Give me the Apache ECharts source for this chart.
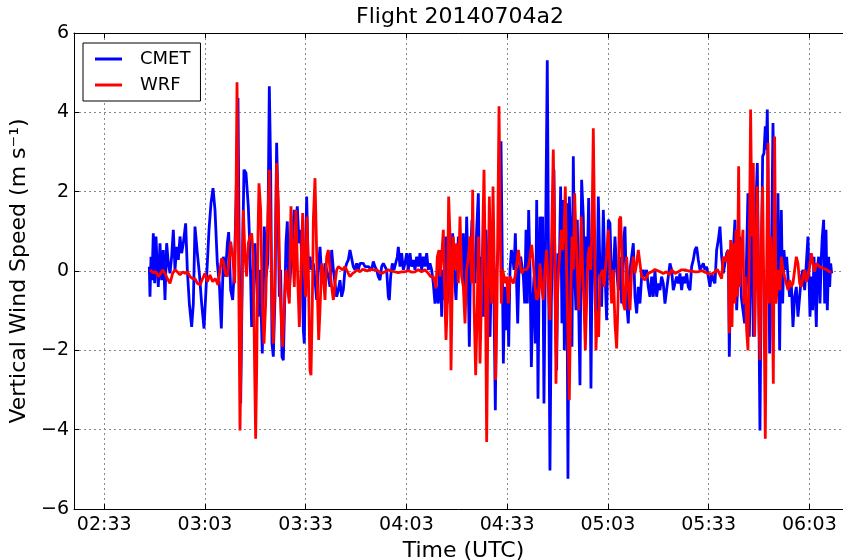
<!DOCTYPE html>
<html>
<head>
<meta charset="utf-8">
<script src="https://cdn.jsdelivr.net/npm/echarts@6/dist/echarts.min.js"></script>
<style>
  html, body { margin: 0; padding: 0; background: #fff; }
  #main { width: 843px; height: 560px; }
</style>
</head>
<body>
<div id="main"></div>
<script>
// time in minutes after 02:00 UTC, vertical wind speed in m/s
const cmet = [
  [46.43,0.11],[46.63,-0.65],[46.93,0.36],[47.22,-0.23],[47.62,0.95],[48.02,-0.31],[48.42,0.87],[48.81,0.03],[49.11,-0.40],[49.61,0.70],
  [50.10,-0.23],[50.60,0.53],[51.10,-0.73],[51.59,0.70],[52.09,0.19],[52.59,-0.06],[53.08,0.36],[53.58,1.04],[54.08,0.03],[54.57,0.61],
  [55.07,0.28],[55.57,0.87],[56.06,0.45],[56.56,0.70],[57.25,1.20],[57.75,0.03],[58.35,-0.82],[59.04,-1.41],[59.54,-0.82],[60.03,1.12],
  [60.73,0.45],[61.33,-0.06],[62.02,-0.82],[62.72,-1.45],[63.51,-0.14],[64.21,1.04],[64.80,1.71],[65.40,2.09],[65.99,1.54],[66.69,0.19],
  [67.28,-0.31],[67.88,-1.45],[68.48,0.36],[69.07,-0.14],[69.67,0.70],[70.06,0.98],[70.66,-0.48],[71.26,-0.73],[71.75,0.03],[72.25,1.71],
  [72.84,4.36],[73.24,0.03],[73.64,-3.34],[74.13,0.03],[74.62,2.55],[75.22,2.47],[75.91,1.63],[76.41,0.53],[76.91,-1.41],[77.40,0.03],
  [77.90,0.70],[78.40,-0.31],[78.89,-1.15],[79.39,0.03],[80.08,-2.08],[80.68,1.12],[81.18,-0.14],[81.67,0.19],[82.17,4.66],[82.57,2.55],
  [82.96,-1.83],[83.36,-2.16],[83.86,-0.65],[84.35,3.23],[84.75,1.71],[85.15,-0.65],[85.54,0.03],[85.94,-2.16],[86.34,-2.25],[86.74,-0.82],
  [87.13,0.70],[87.53,1.25],[88.03,-0.65],[88.52,0.03],[89.12,0.87],[89.62,1.54],[90.11,1.29],[90.51,1.63],[91.01,0.70],[91.50,1.04],
  [92.00,-0.14],[92.30,-1.49],[92.59,-1.83],[92.89,0.03],[93.29,1.88],[93.79,0.03],[94.28,0.36],[94.78,0.03],[95.28,0.19],[95.77,-0.23],
  [96.27,-0.73],[96.77,0.03],[97.26,0.61],[97.76,-0.14],[98.26,-0.31],[98.75,0.19],[99.25,0.03],[99.75,-0.14],[100.24,-0.40],[100.74,0.53],
  [101.24,0.03],[101.73,-0.31],[102.23,-0.65],[102.72,-0.48],
  [103.21,-0.23],[103.71,-0.65],[104.20,-0.48],[104.70,0.03],[105.20,0.19],[105.69,0.28],[106.19,0.53],[106.69,0.57],[107.18,0.11],[107.68,0.03],
  [108.18,0.19],[108.67,0.03],[109.17,0.19],[109.66,0.15],[110.16,0.19],[110.66,0.11],[111.15,0.15],[111.65,0.11],[112.15,0.11],[112.64,0.03],
  [113.14,0.24],[113.64,0.11],[114.13,0.03],[114.63,-0.14],[115.13,-0.23],[115.62,0.11],[116.12,0.19],[116.62,0.11],[117.11,0.03],[117.61,-0.65],
  [117.91,-0.73],[118.30,-0.14],[118.80,0.19],[119.30,0.03],[119.79,0.03],[120.29,0.36],[120.59,0.61],[121.08,0.11],[121.58,0.45],[122.08,0.03],
  [122.57,0.19],[123.07,0.45],[123.57,0.03],[124.06,0.45],[124.56,0.11],[125.06,0.28],[125.55,0.03],[126.05,0.36],[126.55,0.11],[127.04,0.45],
  [127.54,0.03],[128.04,0.36],[128.53,0.11],[129.03,0.45],[129.53,0.03],[130.02,0.19],[130.52,0.03],[131.01,-0.31],[131.51,-0.82],[132.01,-0.40],
  [132.50,-0.82],
  [133.00,0.53],[133.50,-1.15],[133.79,0.03],[134.19,-0.73],[134.79,0.87],[135.18,-0.82],[135.78,0.70],[136.28,0.03],[136.77,0.95],[137.17,0.03],
  [137.77,-0.73],[138.46,0.87],[138.96,0.28],[139.45,0.03],[139.95,0.95],[140.45,-0.82],[140.94,1.37],[141.34,0.03],[141.74,-1.91],[142.14,0.45],
  [142.53,1.29],[142.93,0.03],[143.43,-0.31],[143.92,1.04],[144.42,1.96],[144.72,0.03],[145.11,0.36],[145.51,-0.82],[145.91,-1.15],[146.31,0.87],
  [146.70,1.04],[147.10,0.03],[147.50,-0.82],[147.90,-1.66],[148.29,0.03],[148.69,-0.14],[149.09,-0.82],[149.48,-3.51],[149.88,0.03],[150.28,0.03],
  [150.68,0.87],[151.17,3.27],[151.57,0.03],[151.87,-2.33],[152.26,-0.40],[152.66,-1.49],[153.06,-0.40],[153.46,-1.91],[153.85,0.03],[154.25,0.53],
  [154.65,0.36],[155.04,0.03],[155.44,0.95],[155.84,-0.40],[156.14,-1.32],[156.53,0.03],[157.03,0.36],[157.43,0.36],[157.83,-0.14],[158.22,-0.82],
  [158.62,1.04],[159.02,-0.82],[159.41,1.54],[159.81,0.03],[160.21,-2.42],[160.61,-0.82],[161.00,-0.14],[161.40,-1.83],[161.80,1.79],[162.19,-3.22],
  [162.49,-0.48],
  [162.77,1.37],[163.17,0.03],[163.56,1.37],[163.96,-3.34],[164.36,0.03],[164.95,5.31],[165.35,0.03],[165.75,-5.03],[166.15,-0.82],[166.54,0.87],
  [166.94,2.55],[167.34,-0.82],[167.74,-2.50],[168.13,0.45],[168.53,0.03],[168.93,2.13],[169.32,-1.32],[169.72,1.79],[170.02,-2.00],[170.42,0.03],
  [170.71,1.71],[171.11,-5.24],[171.51,1.88],[171.91,0.87],[172.30,-1.91],[172.70,2.89],[173.10,0.03],[173.49,-0.99],[173.89,1.29],[174.29,-0.82],
  [174.69,-2.88],[175.18,2.30],[175.68,1.37],[176.08,-0.99],[176.47,0.87],[176.87,0.03],[177.27,1.84],[177.67,0.03],[177.96,-2.96],[178.36,0.87],
  [178.86,1.12],[179.25,-0.82],[179.65,-1.24],[180.15,1.88],[180.64,0.03],[181.14,-0.90],[181.64,1.54],[182.13,0.03],[182.63,-1.24],[183.13,1.29],
  [183.62,1.20],[184.12,-0.31],[184.62,-0.14],[185.11,0.87],[185.61,0.03],[186.11,-0.48],[186.60,0.36],[187.10,-0.82],[187.60,0.70],[188.09,1.12],
  [188.59,-0.82],[189.08,-1.32],[189.58,0.03],[190.08,0.36],[190.57,0.70],[191.07,-0.65],[191.57,-1.07],[192.06,-0.40],
  [192.55,-0.82],[193.05,-0.14],[193.54,0.03],[194.04,-0.14],[194.54,0.03],[195.03,-0.40],[195.53,-0.65],[196.03,-0.14],[196.52,-0.65],[197.02,0.03],
  [197.52,-0.65],[198.01,-0.31],[198.51,-0.48],[199.00,-0.14],[199.50,-0.31],[200.00,-0.82],[200.49,-0.48],[200.99,-0.14],[201.49,0.19],[201.98,0.03],
  [202.48,-0.48],[202.98,-0.31],[203.47,-0.14],[203.97,-0.31],[204.47,-0.06],[204.96,-0.48],[205.46,-0.14],[205.96,-0.31],[206.45,-0.06],[206.95,-0.40],
  [207.45,-0.48],[207.94,0.11],[208.44,0.28],[208.93,0.53],[209.43,0.61],[209.93,0.28],[210.42,0.03],[210.92,0.11],[211.42,0.19],[211.91,0.03],
  [212.41,0.11],[212.91,-0.14],[213.40,-0.40],[213.90,-0.06],[214.40,-0.23],[214.89,-0.31],[215.39,0.53],[215.89,0.78],[216.38,1.12],[216.88,0.36],
  [217.38,-0.06],[217.87,0.19],[218.37,0.45],[218.87,0.53],[219.16,-2.16],[219.56,0.03],[219.96,-0.82],[220.35,0.53],[220.85,1.29],[221.35,-0.99],
  [221.74,-0.14],[222.24,0.87],[222.73,-0.65],[223.23,-0.99],[223.73,-1.32],[224.22,0.03],[224.72,1.96],[225.12,-1.66],[225.51,0.03],[225.91,2.21],
  [226.31,-1.66],[226.71,0.03],[227.10,1.71],[227.50,2.72],[227.90,-0.40],[228.29,-4.02],[228.69,0.03],[229.09,2.89],[229.49,2.97],[229.88,3.65],
  [230.18,3.06],[230.48,4.07],[230.88,0.87],[231.17,-2.08],[231.67,0.03],[232.17,3.73],[232.66,0.87],[233.16,-0.14],[233.66,1.96],[234.15,-2.00],
  [234.65,1.54],[235.05,-0.82],[235.44,0.53],[235.84,0.03],[236.24,0.36],[236.63,-0.14],[237.13,-0.65],[237.63,-0.31],[238.12,-1.41],[238.62,-0.65],
  [239.12,-0.40],[239.61,-1.15],[240.11,-0.65],[240.61,-0.14],[241.10,0.03],[241.60,-0.48],[242.10,0.19],[242.59,0.87],[242.89,-0.14],[243.19,-1.15],
  [243.59,-0.14],[243.98,-0.99],[244.38,0.36],[244.78,-0.65],[245.08,-1.41],[245.37,0.03],[245.77,0.36],[246.17,-0.82],[246.57,0.36],[246.86,0.87],
  [247.26,1.29],[247.56,-0.82],[247.96,1.04],[248.35,-0.99],[248.75,0.36],[249.05,-0.40],[249.35,0.19],[249.64,-0.06]
];

const wrf = [
  [46.63,0.03],[47.62,-0.04],[48.42,-0.02],[49.11,-0.14],[49.81,-0.06],[50.40,0.03],[51.10,-0.06],[51.79,-0.19],[52.59,-0.31],[53.38,-0.06],
  [54.08,0.03],[54.77,-0.02],[55.57,-0.10],[56.36,-0.02],[57.06,-0.06],[57.75,-0.02],[58.55,-0.14],[59.34,-0.19],[60.03,-0.19],[60.73,-0.31],
  [61.52,-0.35],[62.32,-0.19],[63.01,-0.06],[63.71,-0.27],[64.50,-0.10],[65.30,-0.27],[66.09,-0.19],[66.89,-0.35],[67.48,0.03],[67.98,0.32],
  [68.48,0.24],[69.07,-0.06],[69.67,-0.14],[70.16,0.24],[70.66,0.74],[71.26,0.36],[71.85,-0.31],[72.25,1.71],[72.55,4.76],[72.94,1.04],
  [73.44,-4.02],[73.94,-0.82],[74.43,1.54],
  [74.92,0.36],[75.42,-0.14],[75.91,0.70],[76.41,0.87],[76.91,0.95],[77.40,0.36],[77.80,-2.50],[78.10,-4.23],[78.40,-2.50],[78.79,0.87],
  [79.09,2.21],[79.59,1.54],[80.08,-0.82],[80.58,-1.83],[81.08,-0.82],[81.57,0.87],[82.17,2.55],[82.57,0.87],[82.96,-0.82],[83.36,-1.83],
  [83.86,0.03],[84.35,2.72],[84.85,1.71],[85.35,-0.40],[85.84,-1.49],[86.14,-1.91],[86.64,-0.82],[87.13,0.03],[87.63,-0.40],[88.13,-0.82],
  [88.62,1.63],[89.12,0.53],[89.62,-0.40],[90.11,1.54],[90.61,-0.14],[91.11,-1.41],[91.60,0.03],[92.10,1.46],[92.59,0.03],[92.99,-0.65],
  [93.39,1.37],[93.79,0.03],[94.28,-2.50],[94.58,-2.63],[94.98,-0.82],[95.28,1.29],[95.77,2.34],[96.17,0.87],[96.57,-0.82],[96.87,-1.74],
  [97.26,-0.99],[97.76,0.19],[98.26,-0.14],[98.75,-0.73],[99.25,0.36],[99.75,0.53],[100.24,0.03],[100.74,-0.40],[101.24,-0.73],[101.73,-0.31],
  [102.23,0.03],[102.72,0.11],
  [103.21,0.07],[104.00,0.03],[104.70,0.11],[105.20,0.15],[105.69,-0.06],[106.19,-0.14],[106.98,-0.06],[107.68,-0.02],[108.37,0.03],[109.17,-0.02],
  [109.96,0.04],[110.66,0.03],[111.35,0.00],[112.15,0.04],[113.14,0.03],[114.13,0.03],[114.93,-0.02],[115.62,-0.06],[116.62,-0.02],[117.61,0.03],
  [118.60,0.00],[119.59,-0.02],[120.59,-0.04],[121.58,-0.02],[122.57,-0.02],[123.57,0.01],[124.56,-0.03],[125.55,-0.02],[126.55,0.03],[127.54,-0.02],
  [128.53,0.03],[129.53,-0.06],[130.22,-0.14],[131.01,-0.14],[131.51,-0.31],[131.81,-0.44],[132.20,0.36],[132.70,0.53],
  [133.00,-0.14],[133.50,0.36],[133.99,1.04],[134.49,-0.82],[134.79,-1.74],[135.18,-0.82],[135.58,1.88],[135.98,0.87],[136.28,-2.50],[136.57,-0.82],
  [136.97,0.87],[137.47,0.03],[137.97,0.70],[138.46,-0.31],[138.96,1.37],[139.45,-0.14],[139.95,-0.40],[140.45,-1.32],[140.94,0.03],[141.44,0.36],
  [141.94,0.87],[142.43,-0.31],[142.73,2.05],[143.13,-0.82],[143.63,-2.63],[144.12,-0.82],[144.42,0.87],[144.92,-2.33],[145.31,-0.82],[145.71,0.87],
  [146.11,2.55],[146.50,0.03],[146.90,-4.31],[147.30,-0.82],[147.70,1.88],[148.09,0.03],[148.39,-0.82],[148.79,2.13],[149.19,0.03],[149.58,-2.75],
  [149.98,-0.82],[150.58,4.15],[150.97,0.87],[151.27,-0.82],[151.67,0.03],[152.07,-0.14],[152.46,-0.31],[152.86,-0.14],[153.36,-0.82],[153.85,-0.14],
  [154.35,-0.23],[154.85,-0.31],[155.34,-0.14],[155.84,0.19],[156.34,0.53],[156.83,0.19],[157.33,-0.06],[157.83,0.03],[158.32,0.03],[158.82,0.04],
  [159.31,0.11],[159.81,0.36],[160.31,0.66],[160.80,0.19],[161.30,-0.40],[161.80,-0.73],[162.29,-0.65],
  [162.77,0.19],[163.27,-0.40],[163.76,-0.73],[164.26,0.03],[164.76,0.53],[165.25,-0.40],[165.75,-1.24],[166.25,0.87],[166.74,3.06],[167.14,0.87],
  [167.54,-2.84],[167.93,-0.82],[168.33,0.03],[168.73,0.53],[169.13,1.04],[169.52,0.53],[169.92,0.87],[170.32,2.13],[170.71,0.03],[171.11,-1.66],
  [171.51,-3.26],[171.91,-0.82],[172.30,0.87],[172.70,0.03],[173.10,1.96],[173.49,0.87],[173.89,0.03],[174.29,-0.99],[174.69,0.03],[175.08,1.37],
  [175.48,0.03],[175.88,-0.82],[176.28,-2.00],[176.67,-0.82],[177.07,0.36],[177.47,0.61],[177.86,0.03],[178.26,1.04],[178.66,3.60],[179.06,0.87],
  [179.45,-2.00],[179.85,-0.99],[180.25,-1.66],[180.64,-0.14],[181.04,-0.06],[181.44,0.03],[181.84,-0.40],[182.23,0.03],[182.63,0.36],[183.13,1.04],
  [183.62,0.03],[184.12,-0.82],[184.62,0.03],[185.11,-1.32],[185.61,-1.95],[186.01,-0.82],[186.40,1.29],[186.80,1.37],[187.20,0.36],[187.60,-0.82],
  [188.09,-0.99],[188.59,0.36],[189.08,-0.31],[189.58,-0.99],[190.08,0.03],[190.57,0.36],[191.07,-0.06],[191.57,0.19],[192.06,0.53],
  [193.05,-0.14],[194.04,-0.23],[195.03,-0.06],[196.03,-0.02],[197.02,0.04],[197.52,0.07],[198.51,-0.02],[199.50,-0.06],[200.49,-0.02],[201.29,-0.10],
  [201.98,0.03],[202.98,-0.06],[203.97,-0.02],[204.96,0.03],[205.96,0.03],[206.95,0.00],[207.94,0.00],[208.93,-0.02],[209.93,-0.02],[210.92,0.01],
  [211.91,-0.03],[212.91,-0.06],[213.90,-0.08],[214.89,-0.02],[215.59,0.04],[216.38,-0.10],[216.88,-0.19],[217.38,0.36],[217.87,0.24],[218.37,0.36],
  [218.87,0.53],[219.16,-1.57],[219.56,0.78],[219.96,-1.41],[220.35,0.70],[220.85,-0.82],[221.15,1.04],[221.55,-0.65],[221.94,2.64],
  [222.24,-0.40],[222.73,0.36],[223.23,1.04],[223.53,-0.82],[223.92,-0.14],[224.32,-1.49],[224.72,-2.00],[225.12,0.45],[225.51,4.07],[225.91,0.87],
  [226.31,2.72],[226.71,-1.66],[227.10,0.03],[227.50,2.13],[227.90,-0.82],[228.29,-2.25],[228.69,0.87],[229.09,2.13],[229.49,-0.82],[229.88,-4.23],
  [230.28,0.03],[230.68,3.23],[231.07,-0.82],[231.47,0.87],[231.87,0.03],[232.27,-2.84],[232.66,3.39],[233.06,-0.82],[233.46,-0.82],[233.85,0.03],
  [234.25,-0.48],[234.65,0.36],[235.15,0.03],[235.64,-0.14],[236.14,-0.31],[236.63,-0.48],[237.13,-0.23],[237.63,-0.40],[238.12,-0.31],[238.62,0.03],
  [239.12,0.36],[239.61,0.19],[240.11,-0.31],[240.61,-0.40],[241.10,-0.14],[241.60,0.03],[242.10,-0.27],[242.59,-0.14],[243.09,0.11],[243.59,0.45],
  [244.08,0.19],[244.58,-0.02],[245.08,0.19],[245.57,0.15],[246.07,0.11],[246.57,0.09],[247.06,0.07],[247.56,0.07],[248.06,0.04],[248.55,0.03],
  [249.05,-0.02],[249.55,-0.02]
];

// tick positions (minutes after 02:00) -> 02:33, 03:03, ...
const timeTicks = [33, 63, 93, 123, 153, 183, 213, 243];

const FONT = '"DejaVu Sans", "Liberation Sans", sans-serif';

function hhmm(m) {
  const h = 2 + Math.floor(m / 60);
  const mm = Math.round(m % 60);
  return (h < 10 ? '0' : '') + h + ':' + (mm < 10 ? '0' : '') + mm;
}

const gridDots = { color: '#888', width: 1, type: [2, 3] };

const chart = echarts.init(document.getElementById('main'), null, { renderer: 'canvas' });

chart.setOption({
  animation: false,
  backgroundColor: '#fff',
  textStyle: { fontFamily: FONT },
  title: {
    text: 'Flight 20140704a2',
    left: 460,
    top: 6,
    padding: 0,
    textAlign: 'center',
    textStyle: { fontFamily: FONT, fontSize: 22, fontWeight: 'normal', color: '#000' }
  },
  legend: {
    data: ['CMET', 'WRF'],
    orient: 'vertical',
    left: 83,
    top: 43,
    icon: 'rect',
    itemWidth: 27,
    itemHeight: 3,
    itemGap: 6,
    padding: [6, 10, 6, 12],
    backgroundColor: '#fff',
    borderColor: '#000',
    borderWidth: 1,
    borderRadius: 0,
    textStyle: { fontFamily: FONT, fontSize: 18, color: '#000', lineHeight: 20, padding: [0, 0, 0, 13] }
  },
  // plot box runs past the right edge of the picture, as in the original
  grid: { left: 74, top: 33, width: 779, height: 476, containLabel: false, outerBoundsMode: 'none' },
  xAxis: [
    {
      type: 'value',
      min: 24,
      max: 256,
      position: 'bottom',
      name: 'Time (UTC)',
      nameLocation: 'middle',
      nameGap: 25,
      nameTextStyle: { fontFamily: FONT, fontSize: 22, color: '#000' },
      axisLine: { show: true, onZero: false, lineStyle: { color: '#000', width: 1 } },
      axisTick: { show: true, inside: true, length: 5, customValues: timeTicks, lineStyle: { color: '#000' } },
      axisLabel: { customValues: timeTicks, formatter: hhmm, fontFamily: FONT, fontSize: 19, color: '#000', margin: 7 },
      splitLine: { show: true, lineStyle: gridDots }
    },
    {
      type: 'value',
      min: 24,
      max: 256,
      position: 'top',
      axisLine: { show: true, onZero: false, lineStyle: { color: '#000', width: 1 } },
      axisTick: { show: true, inside: true, length: 5, customValues: timeTicks, lineStyle: { color: '#000' } },
      axisLabel: { show: false },
      splitLine: { show: false }
    }
  ],
  yAxis: {
    type: 'value',
    min: -6,
    max: 6,
    interval: 2,
    name: 'Vertical Wind Speed (m s\u207B\u00B9)',
    nameLocation: 'middle',
    nameGap: 35,
    nameTextStyle: { fontFamily: FONT, fontSize: 22, color: '#000' },
    axisLine: { show: true, lineStyle: { color: '#000', width: 1 } },
    axisTick: { show: true, inside: true, length: 5, lineStyle: { color: '#000' } },
    axisLabel: {
      fontFamily: FONT, fontSize: 19, color: '#000', margin: 5,
      formatter: v => (v < 0 ? '\u2212' + Math.abs(v) : String(v))
    },
    splitLine: { show: true, lineStyle: gridDots }
  },
  series: [
    {
      name: 'CMET',
      type: 'line',
      data: cmet,
      symbol: 'none',
      showSymbol: false,
      lineStyle: { color: '#0000ff', width: 2.8 },
      itemStyle: { color: '#0000ff' }
    },
    {
      name: 'WRF',
      type: 'line',
      data: wrf,
      symbol: 'none',
      showSymbol: false,
      lineStyle: { color: '#ff0000', width: 2.8 },
      itemStyle: { color: '#ff0000' }
    }
  ]
});
</script>
</body>
</html>
